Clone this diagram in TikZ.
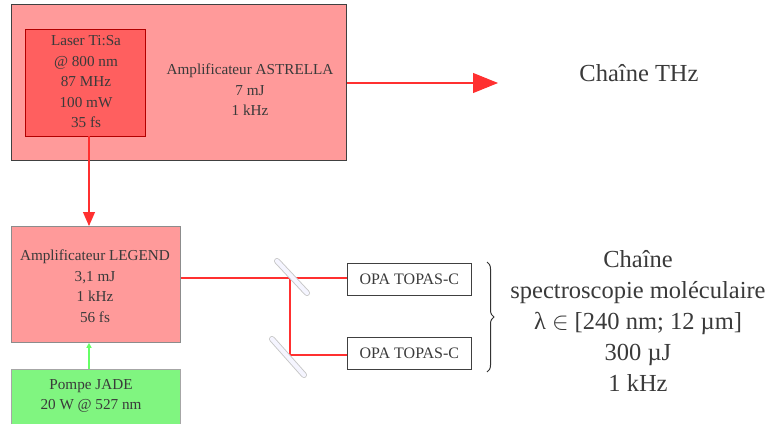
\documentclass[tikz,border=0pt]{standalone}
\usepackage{fontspec}
\setmainfont{Liberation Serif}
\usetikzlibrary{arrows.meta,decorations.pathreplacing}
\definecolor{boxred}{HTML}{FF9A9A}
\definecolor{innerred}{HTML}{FF5F5F}
\definecolor{boxgreen}{HTML}{80F580}
\definecolor{txt}{HTML}{3A3A3A}
\definecolor{beam}{HTML}{FF3030}
\tikzset{
  box/.style={draw=#1, line width=0.8pt, inner sep=0pt, text=txt, align=center},
  small/.style={font=\fontsize{15.2}{20.5}\selectfont},
  big/.style={font=\fontsize{24.5}{31}\selectfont, text=txt, align=center},
  beamline/.style={draw=beam, line width=1.1pt},
  mirror/.style={line width=6pt, draw=gray!45, line cap=round},
  mirrorin/.style={line width=4.2pt, draw=blue!4, line cap=round},
}
\begin{document}
\begin{tikzpicture}[x=1pt,y=-1pt]
\useasboundingbox (0,0) rectangle (771,423);
% ASTRELLA outer box
\node[box=black!75, fill=boxred, minimum width=335, minimum height=156, anchor=north west] (astr) at (11,4) {};
\node[small, text=txt, align=center] (astrtxt) at (250,90) {Amplificateur ASTRELLA\\7 mJ\\1 kHz};
% Laser Ti:Sa
\node[box=red!70!black, fill=innerred, minimum width=120, minimum height=107, anchor=north west, line width=0.5pt] (laser) at (25,29) {};
\node[small, text=txt, align=center] (lasertxt) at (86,82) {Laser Ti:Sa\\@ 800 nm\\87 MHz\\100 mW\\35 fs};
% THz arrow
\coordinate (thzend) at (498,83);
\draw[beamline, -{Triangle[length=25pt,width=20pt]}] (astr.east |- 0,83) -- (thzend);
\node[big] (thz) at (639,73) {Chaîne THz};
% LEGEND
\node[box=black!45, fill=boxred, minimum width=169, minimum height=116, anchor=north west] (legend) at (11,226) {};
\node[small, text=txt, align=center] (legtxt) at (95,286) {Amplificateur LEGEND\\3,1 mJ\\1 kHz\\56 fs};
\draw[beamline, -{Triangle[length=14pt,width=12pt]}] (89,136) -- (legend.north -| 89,0);
% JADE
\node[box=black!35, fill=boxgreen, minimum width=169, minimum height=56, anchor=north west] (jade) at (11,369) {};
\node[small, text=txt, align=center] (jadetxt) at (91,396) {Pompe JADE\\20 W @ 527 nm};
\draw[draw=green!60, line width=1.4pt, -{Triangle[length=5pt,width=5pt]}] (jade.north -| 89,0) -- (legend.south -| 89,0);
% OPA boxes
\node[box=black!75, minimum width=124, minimum height=32, anchor=north west, font=\fontsize{16}{18}\selectfont] (opa1) at (347,263) {OPA TOPAS-C};
\node[box=black!75, minimum width=124, minimum height=32, anchor=north west, font=\fontsize{16}{18}\selectfont] (opa2) at (347,337) {OPA TOPAS-C};
% beams
\coordinate (m1) at (290,278);
\coordinate (m2) at (290,355);
\draw[beamline] (legend.east |- m1) -- (opa1.west |- m1);
\draw[beamline] (m1) -- (m2) -- (opa2.west |- m2);
% mirrors
\draw[mirror] (277,261) -- (307,293);
\draw[mirrorin] (277,261) -- (307,293);
\draw[mirror] (272,339) -- (304,375);
\draw[mirrorin] (272,339) -- (304,375);
% brace
\draw[decorate, decoration={brace, amplitude=7pt}, line width=1pt, draw=black!80] (487,262) -- (487,372);
% right text
\node[big] (spec) at (638,321) {Chaîne\\spectroscopie moléculaire\\λ $\in$ [240 nm; 12 µm]\\300 µJ\\1 kHz};
\end{tikzpicture}
\end{document}
